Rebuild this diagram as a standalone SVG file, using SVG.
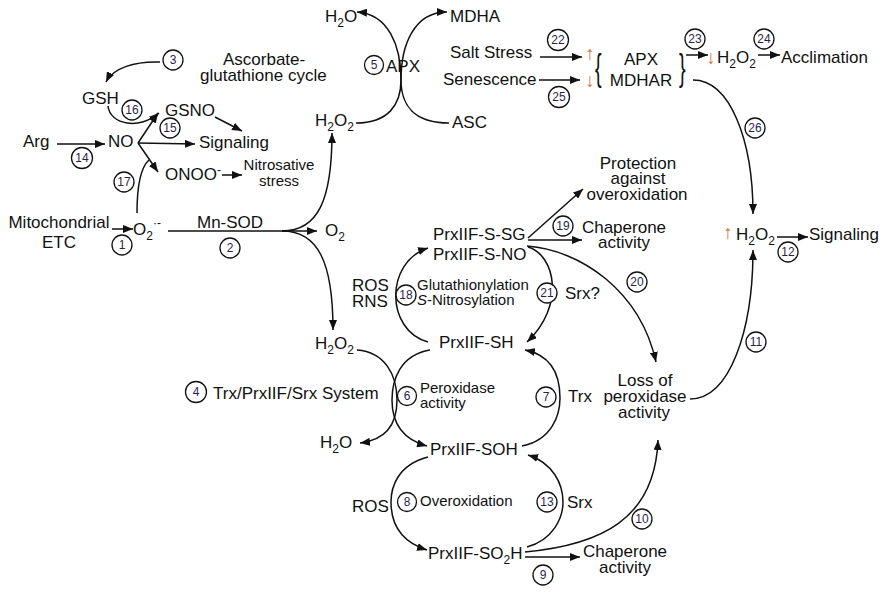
<svg xmlns="http://www.w3.org/2000/svg" width="892" height="604" viewBox="0 0 892 604">
<defs>
<marker id="ah" viewBox="0 0 10 8" refX="10" refY="4" markerWidth="10" markerHeight="8" markerUnits="userSpaceOnUse" orient="auto"><path d="M0,0 L10,4 L0,8 z" fill="#111"/></marker>
<style>
text{font-family:"Liberation Sans",Arial,"DejaVu Sans",sans-serif;fill:#111;}
.t{font-size:17px;}
.s{font-size:15px;}
.sub{font-size:12px;}
.m{text-anchor:middle;}
.c circle{fill:#fff;stroke:#111;stroke-width:1.3;}
.c text{font-size:12px;text-anchor:middle;fill:#2a1f4a;}
.ar{font-size:19px;fill:#c8793a;text-anchor:middle;}
.br{font-size:36px;font-weight:normal;}
#connectors path{fill:none;stroke:#111;stroke-width:1.5;}
#connectors .a{marker-end:url(#ah);}
</style>
</defs>
<rect width="892" height="604" fill="#fff"/>

<g id="connectors">
<path class="a" d="M160,62 C135,61 113,68 106,82"/>
<path class="a" d="M108,106 C110,125 140,130 159,113"/>
<path class="a" d="M57,144 L105,144"/>
<path class="a" d="M138,143 L158,113"/>
<path class="a" d="M138,143 L195,144"/>
<path class="a" d="M138,143 L158,172"/>
<path class="a" d="M215,117 L242,131"/>
<path class="a" d="M222,175 L242,175"/>
<path d="M137,213 C137,186 140,168 149,160"/>
<path class="a" d="M112,229 L133,229"/>
<path d="M168,231 L287,231"/>
<path class="a" d="M287,231 L317,231"/>
<path class="a" d="M282,231 C318,231 332,200 332,133"/>
<path class="a" d="M282,231 C318,231 333,262 333,330"/>
<path class="a" d="M356,123 C388,123 401,105 401,80 C401,45 388,14 357,12"/>
<path class="a" d="M449,123 C414,123 401,105 401,80 C401,45 414,12 447,12"/>
<path class="a" d="M540,57 L582,57"/>
<path class="a" d="M539,80 L580,80"/>
<path class="a" d="M686,55 L708,55"/>
<path class="a" d="M758,55 L780,55"/>
<path class="a" d="M693,80 C730,80 753,140 753,214"/>
<path class="a" d="M777,237 L808,237"/>
<path class="a" d="M690,399 C730,399 753,330 753,250"/>
<path class="a" d="M528,238 L583,189"/>
<path class="a" d="M528,240 L582,240"/>
<path class="a" d="M527,246 C580,250 640,290 656,362"/>
<path class="a" d="M528,247 C555,255 566,305 527,342"/>
<path class="a" d="M428,342 C385,330 385,262 428,248"/>
<path class="a" d="M357,350 C385,352 397,375 397,400 C397,425 385,440 360,443"/>
<path class="a" d="M430,350 C400,355 392,380 392,400 C392,425 405,440 427,446"/>
<path class="a" d="M522,446 C552,440 560,415 560,398 C560,372 550,355 525,350"/>
<path class="a" d="M428,457 C397,465 391,488 391,502 C391,525 402,542 427,550"/>
<path class="a" d="M527,547 C553,540 563,518 563,502 C563,484 553,463 528,455"/>
<path class="a" d="M525,552 C600,545 655,520 658,440"/>
<path class="a" d="M525,557 L580,557"/>
</g>

<g id="n-ascorbate"><text class="t"><tspan x="223" y="65">Ascorbate-</tspan><tspan x="200" y="81">glutathione cycle</tspan></text></g>
<g id="n-gsh"><text class="t" x="82" y="104">GSH</text></g>
<g id="n-gsno"><text class="t" x="165" y="116">GSNO</text></g>
<g id="n-arg"><text class="t" x="23" y="147">Arg</text></g>
<g id="n-no"><text class="t" x="108" y="147">NO</text></g>
<g id="n-signaling1"><text class="t" x="199" y="148">Signaling</text></g>
<g id="n-onoo"><text class="t" x="165" y="180">ONOO<tspan class="sub" dy="-6">-</tspan></text></g>
<g id="n-nitrosative"><text class="s m"><tspan x="279" y="170">Nitrosative</tspan><tspan x="279" y="186">stress</tspan></text></g>
<g id="n-mito"><text class="t m"><tspan x="59" y="228">Mitochondrial</tspan><tspan x="59" y="248">ETC</tspan></text></g>
<g id="n-superoxide"><text class="t" x="133" y="235">O<tspan class="sub" dy="5">2</tspan><tspan class="sub" dy="-13">·-</tspan></text></g>
<g id="n-mnsod"><text class="t" x="197" y="228">Mn-SOD</text></g>
<g id="n-o2"><text class="t" x="325" y="236">O<tspan class="sub" dy="5">2</tspan></text></g>
<g id="n-h2o2-top"><text class="t" x="315" y="126">H<tspan class="sub" dy="5">2</tspan><tspan dy="-5">O</tspan><tspan class="sub" dy="5">2</tspan></text></g>
<g id="n-h2o-top"><text class="t" x="325" y="22">H<tspan class="sub" dy="5">2</tspan><tspan dy="-5">O</tspan></text></g>
<g id="n-mdha"><text class="t" x="450" y="22">MDHA</text></g>
<g id="n-apx"><text class="t" x="386" y="72">APX</text></g>
<g id="n-asc"><text class="t" x="452" y="128">ASC</text></g>
<g id="n-salt"><text class="t" x="450" y="58">Salt Stress</text></g>
<g id="n-senescence"><text class="t" x="443" y="85">Senescence</text></g>
<g id="n-apx-mdhar">
<text class="ar" x="590" y="60">↑</text><text class="ar" x="590" y="87">↓</text>
<text class="br" x="595" y="80" transform="translate(595,0) scale(0.55,1) translate(-595,0)">{</text>
<text class="t m"><tspan x="641" y="65">APX</tspan><tspan x="641" y="86">MDHAR</tspan></text>
<text class="br" x="679" y="80" transform="translate(679,0) scale(0.55,1) translate(-679,0)">}</text>
</g>
<g id="n-h2o2-down"><text class="ar" x="711" y="64">↓</text><text class="t" x="717" y="63">H<tspan class="sub" dy="5">2</tspan><tspan dy="-5">O</tspan><tspan class="sub" dy="5">2</tspan></text></g>
<g id="n-acclimation"><text class="t" x="781" y="63">Acclimation</text></g>
<g id="n-h2o2-up"><text class="ar" x="728" y="239">↑</text><text class="t" x="736" y="240">H<tspan class="sub" dy="5">2</tspan><tspan dy="-5">O</tspan><tspan class="sub" dy="5">2</tspan></text></g>
<g id="n-signaling2"><text class="t" x="809" y="240">Signaling</text></g>
<g id="n-protection"><text class="t m"><tspan x="638" y="169">Protection</tspan><tspan x="638" y="184">against</tspan><tspan x="637" y="200">overoxidation</tspan></text></g>
<g id="n-chaperone1"><text class="t m"><tspan x="624" y="233">Chaperone</tspan><tspan x="624" y="248">activity</tspan></text></g>
<g id="n-prx-ssg"><text class="t"><tspan x="433" y="240">PrxIIF-S-SG</tspan><tspan x="433" y="260">PrxIIF-S-NO</tspan></text></g>
<g id="n-ros-rns"><text class="t"><tspan x="352" y="291">ROS</tspan><tspan x="352" y="307">RNS</tspan></text></g>
<g id="n-glut"><text class="s"><tspan x="417" y="290">Glutathionylation</tspan><tspan x="417" y="305" font-style="italic">S</tspan><tspan>-Nitrosylation</tspan></text></g>
<g id="n-srxq"><text class="t" x="565" y="299">Srx?</text></g>
<g id="n-prx-sh"><text class="t" x="439" y="348">PrxIIF-SH</text></g>
<g id="n-h2o2-low"><text class="t" x="315" y="349">H<tspan class="sub" dy="5">2</tspan><tspan dy="-5">O</tspan><tspan class="sub" dy="5">2</tspan></text></g>
<g id="n-system"><text class="t" x="213" y="399">Trx/PrxIIF/Srx System</text></g>
<g id="n-perox"><text class="s"><tspan x="420" y="393">Peroxidase</tspan><tspan x="420" y="408">activity</tspan></text></g>
<g id="n-trx"><text class="t" x="568" y="402">Trx</text></g>
<g id="n-h2o-low"><text class="t" x="320" y="448">H<tspan class="sub" dy="5">2</tspan><tspan dy="-5">O</tspan></text></g>
<g id="n-prx-soh"><text class="t" x="430" y="455">PrxIIF-SOH</text></g>
<g id="n-ros2"><text class="t" x="352" y="512">ROS</text></g>
<g id="n-overox"><text class="s" x="420" y="506">Overoxidation</text></g>
<g id="n-srx"><text class="t" x="567" y="508">Srx</text></g>
<g id="n-prx-so2h"><text class="t" x="428" y="559">PrxIIF-SO<tspan class="sub" dy="5">2</tspan><tspan dy="-5">H</tspan></text></g>
<g id="n-chaperone2"><text class="t m"><tspan x="625" y="557">Chaperone</tspan><tspan x="625" y="573">activity</tspan></text></g>
<g id="n-loss"><text class="t m"><tspan x="645" y="386">Loss of</tspan><tspan x="645" y="402">peroxidase</tspan><tspan x="644" y="418">activity</tspan></text></g>

<g id="steps" class="c">
<g id="s1"><circle cx="122" cy="245" r="10"/><text x="122" y="249">1</text></g>
<g id="s2"><circle cx="230" cy="248" r="10"/><text x="230" y="252">2</text></g>
<g id="s3"><circle cx="173" cy="60" r="10"/><text x="173" y="64">3</text></g>
<g id="s4"><circle cx="196" cy="392" r="10.5"/><text x="196" y="396">4</text></g>
<g id="s5"><circle cx="374" cy="65" r="9.5"/><text x="374" y="69">5</text></g>
<g id="s6"><circle cx="407" cy="396" r="9.5"/><text x="407" y="400">6</text></g>
<g id="s7"><circle cx="546" cy="397" r="10"/><text x="546" y="401">7</text></g>
<g id="s8"><circle cx="407" cy="502" r="9.5"/><text x="407" y="506">8</text></g>
<g id="s9"><circle cx="543" cy="575" r="10"/><text x="543" y="579">9</text></g>
<g id="s10"><circle cx="642" cy="519" r="10"/><text x="642" y="523">10</text></g>
<g id="s11"><circle cx="756" cy="342" r="10"/><text x="756" y="346">11</text></g>
<g id="s12"><circle cx="788" cy="252" r="10"/><text x="788" y="256">12</text></g>
<g id="s13"><circle cx="547" cy="502" r="10"/><text x="547" y="506">13</text></g>
<g id="s14"><circle cx="82" cy="158" r="10.5"/><text x="82" y="162">14</text></g>
<g id="s15"><circle cx="170" cy="128" r="10"/><text x="170" y="132">15</text></g>
<g id="s16"><circle cx="132" cy="110" r="10"/><text x="132" y="114">16</text></g>
<g id="s17"><circle cx="124" cy="182" r="10"/><text x="124" y="186">17</text></g>
<g id="s18"><circle cx="406" cy="295" r="10"/><text x="406" y="299">18</text></g>
<g id="s19"><circle cx="563" cy="226" r="10"/><text x="563" y="230">19</text></g>
<g id="s20"><circle cx="637" cy="282" r="10"/><text x="637" y="286">20</text></g>
<g id="s21"><circle cx="547" cy="293" r="10"/><text x="547" y="297">21</text></g>
<g id="s22"><circle cx="558" cy="40" r="10.5"/><text x="558" y="44">22</text></g>
<g id="s23"><circle cx="695" cy="39" r="10"/><text x="695" y="43">23</text></g>
<g id="s24"><circle cx="764" cy="39" r="10"/><text x="764" y="43">24</text></g>
<g id="s25"><circle cx="559" cy="97" r="10.5"/><text x="559" y="101">25</text></g>
<g id="s26"><circle cx="755" cy="128" r="10"/><text x="755" y="132">26</text></g>
</g>
</svg>
